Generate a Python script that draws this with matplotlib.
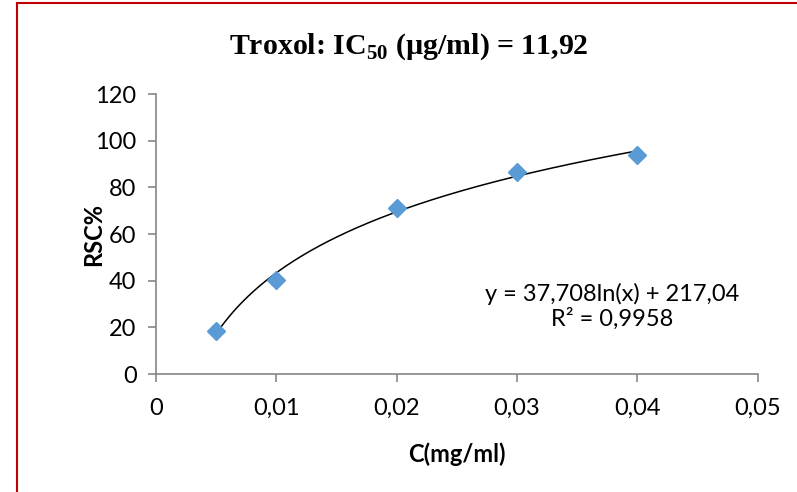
import matplotlib.pyplot as plt
import numpy as np
from matplotlib.ticker import FuncFormatter, MultipleLocator
from matplotlib.lines import Line2D

# data
conc = [0.005, 0.01, 0.02, 0.03, 0.04]  # C (mg/ml)
rsc = [18.4, 40.4, 71.0, 86.7, 93.8]  # RSC%
eq_slope = 37.708
eq_intercept = 217.04
r2 = 0.9958
ic50 = "11,92"

tick_font = "Lato"
grey = "#868686"

plt.rcParams["mathtext.fontset"] = "custom"
plt.rcParams["mathtext.rm"] = "Liberation Serif"
plt.rcParams["mathtext.bf"] = "Liberation Serif:bold"

fig = plt.figure(figsize=(7.97, 4.92), dpi=100)
ax = fig.add_axes([0.1957, 0.2398, 0.755, 0.569])

# logarithmic trendline (Excel style)
xs = np.linspace(min(conc), max(conc), 200)
ax.plot(xs, eq_slope * np.log(xs) + eq_intercept, color="black", lw=1.1, zorder=2)
ax.plot(conc, rsc, "D", ms=9.5, color="#5B9BD5", mec="#5B9BD5", zorder=3, clip_on=False)

ax.set_xlim(0, 0.05)
ax.set_ylim(0, 120)
ax.xaxis.set_major_locator(MultipleLocator(0.01))
ax.yaxis.set_major_locator(MultipleLocator(20))


def comma_fmt(v, pos):
    s = f"{v:.2f}".rstrip("0").rstrip(".") if v != 0 else "0"
    return s.replace(".", ",")


ax.xaxis.set_major_formatter(FuncFormatter(comma_fmt))
ax.yaxis.set_major_formatter(FuncFormatter(lambda v, p: f"{v:.0f}"))

for side in ["top", "right"]:
    ax.spines[side].set_visible(False)
for side in ["left", "bottom"]:
    ax.spines[side].set_color(grey)
    ax.spines[side].set_linewidth(1.2)

ax.tick_params(axis="both", direction="out", length=6, width=1.2, color=grey,
               labelsize=17, labelcolor="black")
ax.tick_params(axis="y", pad=8)
ax.tick_params(axis="x", pad=11)
for lab in ax.get_xticklabels() + ax.get_yticklabels():
    lab.set_fontfamily(tick_font)

ax.set_xlabel("C(mg/ml)", fontsize=17, fontweight="bold", family=tick_font)
ax.set_ylabel("RSC%", fontsize=17, fontweight="bold", family=tick_font)
ax.xaxis.set_label_coords(0.5, -0.245)
ax.yaxis.set_label_coords(-0.085, 0.5)

ax.text(0.0379, 29, f"y = {eq_slope:.3f}ln(x) + {eq_intercept:.2f}".replace(".", ",")
        + "\n" + f"R² = {r2}".replace(".", ","),
        ha="center", va="center", fontsize=17, family=tick_font, linespacing=1.2)

fig.text(0.513, 0.906, r"Troxol: IC$_{\mathbf{50}}$ (µg/ml) = " + ic50,
         ha="center", va="center", fontsize=21.5, fontweight="bold",
         family="Liberation Serif")

# red border (top and left visible)
fig.add_artist(Line2D([0.0213, 1.0], [0.9929, 0.9929], transform=fig.transFigure,
                      color="#C00000", lw=1.5))
fig.add_artist(Line2D([0.0213, 0.0213], [0.0, 0.9929], transform=fig.transFigure,
                      color="#C00000", lw=1.5))

fig.savefig("out.png", dpi=100)
